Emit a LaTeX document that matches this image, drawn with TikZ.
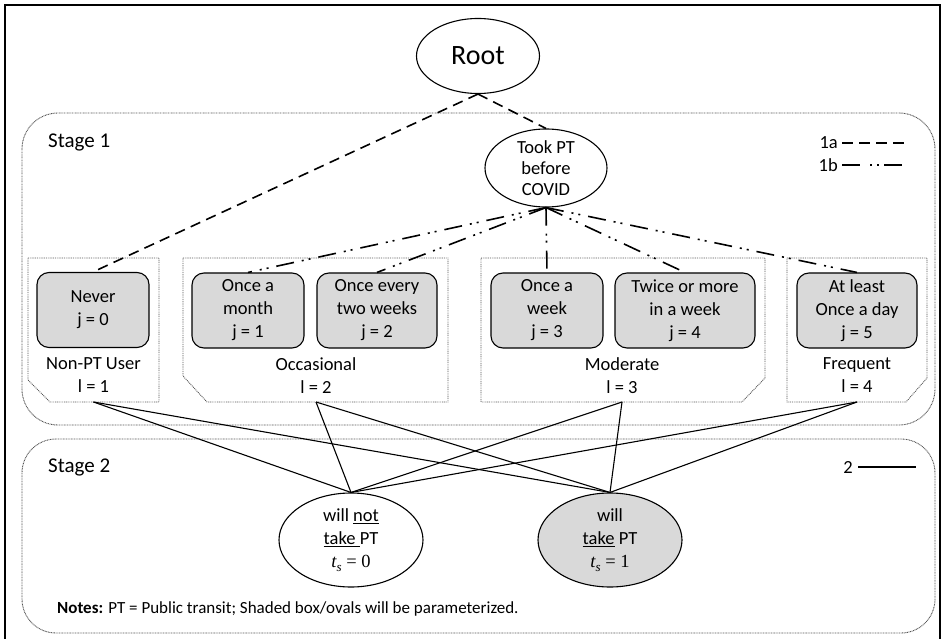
\documentclass[tikz,border=0pt]{standalone}
\usepackage{fontspec}
\setmainfont{Carlito}
\newfontfamily\mathlike{Liberation Serif}
\usetikzlibrary{shapes.geometric}
\definecolor{shade}{HTML}{D9D9D9}
\definecolor{dotgray}{HTML}{555555}
\newcommand{\tsub}[1]{{\mathlike\itshape t\raisebox{-4pt}{\fontsize{13}{13}\selectfont s}\ \upshape = #1}}
\begin{document}
\begin{tikzpicture}[x=1pt,y=-1pt,
  lbl/.style={font=\fontsize{18.5}{23}\selectfont, inner sep=0pt, align=center},
  catbox/.style={draw, line width=1.1pt, fill=shade, rounded corners=12pt, minimum height=75pt, align=center, font=\fontsize{18.5}{23}\selectfont, inner sep=0pt},
  oval/.style={draw, ellipse, line width=1.1pt, inner sep=0pt, align=center},
  stagebox/.style={draw=dotgray, line width=0.9pt, dash pattern=on 0.9pt off 0.7pt},
  groupbox/.style={draw=dotgray, line width=0.9pt, dash pattern=on 0.9pt off 0.9pt},
  linea/.style={line width=1.6pt, dash pattern=on 10.5pt off 6.5pt},
  lineb/.style={line width=1.6pt, dash pattern=on 18pt off 8pt on 2pt off 5pt on 2pt off 8pt},
  linetwo/.style={line width=1.1pt}
]
\useasboundingbox (0,0) rectangle (943,639);
% outer frame
\draw[line width=1.2pt] (5,642) -- (5,5) -- (940,5) -- (940,642);

% stage boxes
\draw[stagebox, rounded corners=36pt] (22,113) rectangle (935,425);
\draw[stagebox, rounded corners=34pt] (22,439) rectangle (935,633);

\node[lbl, anchor=west, font=\fontsize{21}{24}\selectfont] (s1) at (48,142) {Stage 1};
\node[lbl, anchor=west, font=\fontsize{21}{24}\selectfont] (s2) at (48,467) {Stage 2};

% group boxes
\draw[groupbox] (28,258) -- (159,258) -- (159,402) -- (50,402) -- (28,380) -- cycle;
\draw[groupbox] (183,258) -- (448,258) -- (448,402) -- (207,402) -- (183,376) -- cycle;
\draw[groupbox] (481,258) -- (765,258) -- (765,378) -- (742,402) -- (481,402) -- cycle;
\draw[groupbox] (787,258) -- (927,258) -- (927,378) -- (906,402) -- (787,402) -- cycle;
\coordinate (g1) at (93.5,402);
\coordinate (g2) at (316,402);
\coordinate (g3) at (622,402);
\coordinate (g4) at (857,402);

\node[lbl] (gl1) at (93.5,375.5) {Non-PT User\\l = 1};
\node[lbl] (gl2) at (316,375.5) {Occasional\\l = 2};
\node[lbl] (gl3) at (622,375.5) {Moderate\\l = 3};
\node[lbl] (gl4) at (857,375.5) {Frequent\\l = 4};

% category boxes
\node[catbox, minimum width=112pt] (never) at (93,310) {Never\\j = 0};
\node[catbox, minimum width=112pt] (month) at (248,310.5) {Once a\\month\\j = 1};
\node[catbox, minimum width=120pt] (every) at (377,310.5) {Once every\\two weeks\\j = 2};
\node[catbox, minimum width=112pt] (week) at (547,310.5) {Once a\\week\\j = 3};
\node[catbox, minimum width=140pt] (twice) at (685,310.5) {Twice or more\\in a week\\j = 4};
\node[catbox, minimum width=120pt] (least) at (857,310.5) {At least\\Once a day\\j = 5};

% ovals
\node[oval, minimum width=123pt, minimum height=75pt, font=\fontsize{28}{32}\selectfont] (root) at (478,56) {Root};
\node[oval, minimum width=122pt, minimum height=78pt, font=\fontsize{18.5}{21}\selectfont] (took) at (546,168) {Took PT\\before\\COVID};
\node[oval, minimum width=144pt, minimum height=94pt, font=\fontsize{18.5}{23}\selectfont] (wnot) at (351,540) {will \underline{not}\\\underline{take\ }PT\\\tsub{0}};
\node[oval, fill=shade, minimum width=144pt, minimum height=94pt, font=\fontsize{18.5}{23}\selectfont] (will) at (610,540) {will\\\underline{take} PT\\\tsub{1}};

% stage 1 connectors
\draw[linea] (root.south) -- (never.north);
\draw[linea] (root.south) -- (took.north);
\draw[lineb] (took.south) -- (month.north);
\draw[lineb] (took.south) -- (every.north);
\draw[lineb] (took.south) -- (week.north);
\draw[lineb] (took.south) -- (twice.north);
\draw[lineb] (took.south) -- (least.north);

% stage 2 connectors
\foreach \g in {g1,g2,g3,g4}{
  \draw[linetwo] (\g) -- (wnot.north);
  \draw[linetwo] (\g) -- (will.north);
}

% legend
\node[lbl, anchor=east] (la) at (838,143) {1a};
\node[lbl, anchor=east] (lb) at (838,165) {1b};
\node[lbl, anchor=east] (l2) at (853,467) {2};
\coordinate (laS) at (842,143); \coordinate (laE) at (905,143);
\coordinate (lbS) at (842,165); \coordinate (lbE) at (905,165);
\coordinate (l2S) at (858,467); \coordinate (l2E) at (916,467);
\draw[linea] (laS) -- (laE);
\draw[line width=1.6pt, dash pattern=on 18pt off 10pt on 2pt off 5pt on 2pt off 5pt] (lbS) -- (lbE);
\draw[linetwo] (l2S) -- (l2E);

% notes
\node[anchor=west, inner sep=0pt, font=\fontsize{17}{20}\selectfont] (notes) at (57,609) {\textbf{Notes:} PT = Public transit; Shaded box/ovals will be parameterized.};
\end{tikzpicture}
\end{document}
